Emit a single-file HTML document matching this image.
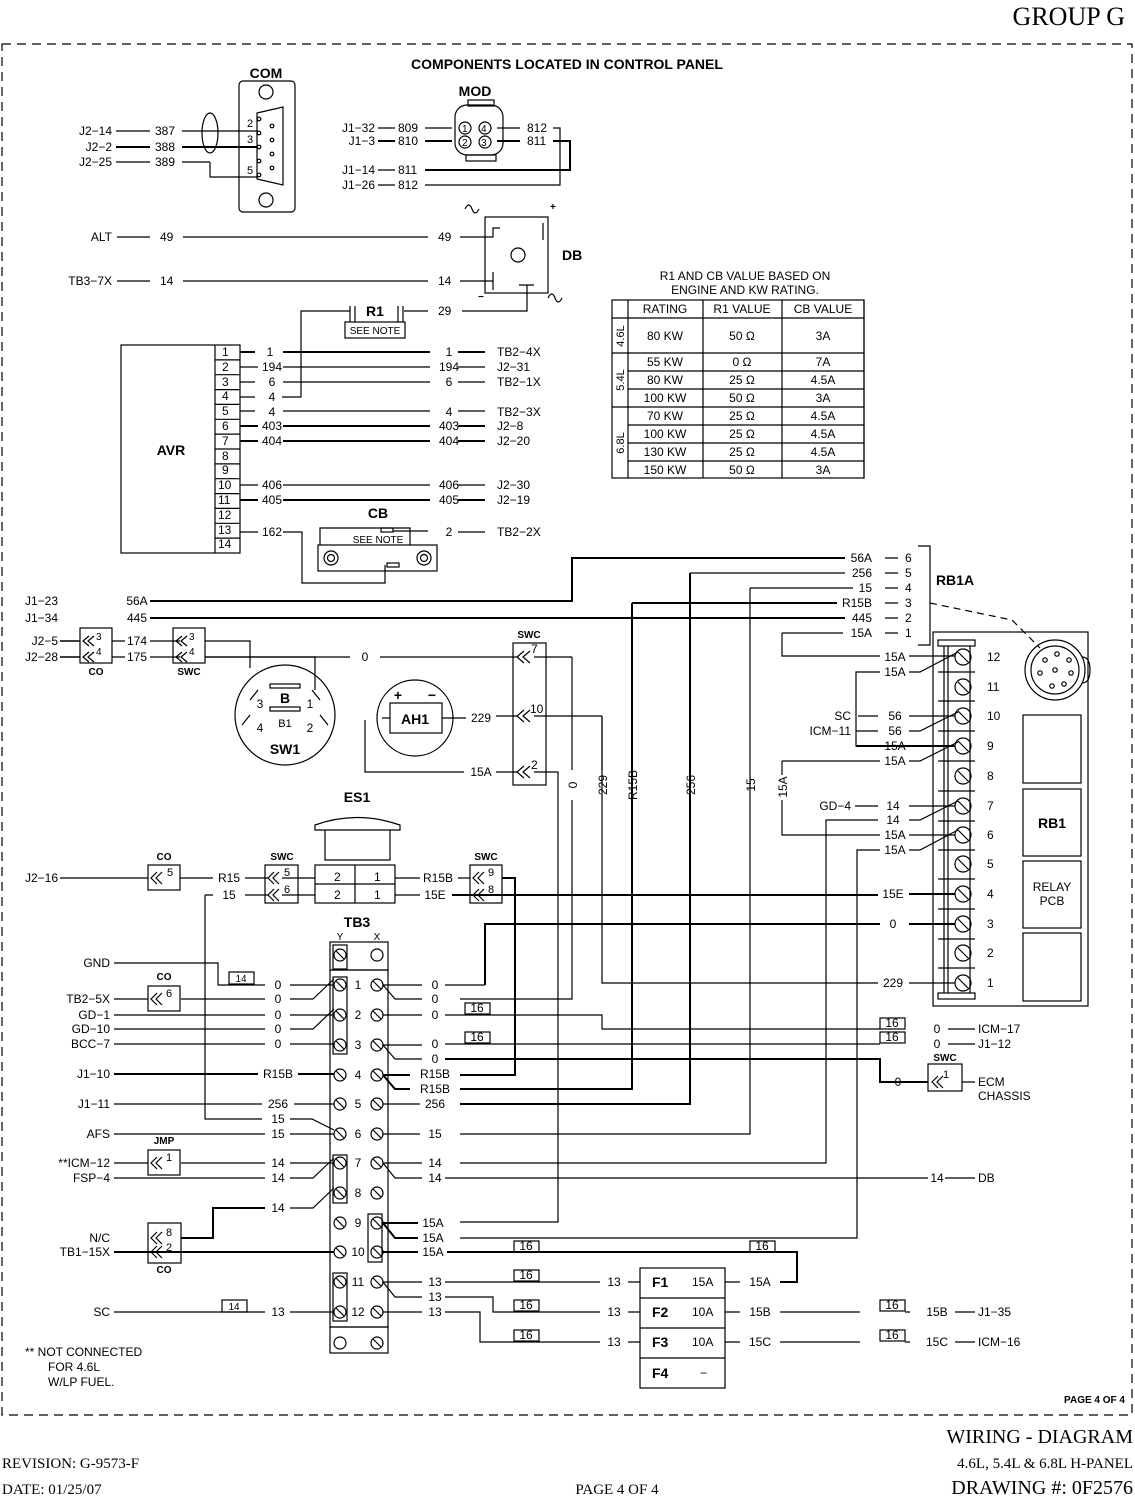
<!DOCTYPE html>
<html><head><meta charset="utf-8">
<style>
html,body{margin:0;padding:0;background:#fff;}
svg{display:block;}
text{font-family:"Liberation Sans",sans-serif;font-size:12px;fill:#000;}
.b{font-weight:bold;font-size:14px;}
.s{font-family:"Liberation Serif",serif;}
.m{text-anchor:middle;}
.e{text-anchor:end;}
</style></head><body>
<svg width="1135" height="1497" viewBox="0 0 1135 1497" xmlns="http://www.w3.org/2000/svg">
<g fill="none" stroke="#000" stroke-width="1.2">
<rect x="2" y="44" width="1130" height="1371" stroke-dasharray="9,6"/>

<!-- COM connector -->
<rect x="239" y="81" width="56" height="131" rx="4"/>
<path d="M257 113 L283 107 L283 185 L257 179 Z"/>
<circle cx="266" cy="92" r="7"/><circle cx="266" cy="200" r="7"/>
<circle cx="259" cy="119" r="1.8"/><circle cx="259" cy="133" r="1.8"/><circle cx="259" cy="147" r="1.8"/><circle cx="259" cy="161" r="1.8"/><circle cx="259" cy="175" r="1.8"/>
<circle cx="272" cy="126" r="1.8"/><circle cx="272" cy="140" r="1.8"/><circle cx="272" cy="154" r="1.8"/><circle cx="272" cy="168" r="1.8"/>
<ellipse cx="210" cy="133" rx="8" ry="20"/>
<path d="M116 131 H150 M182 131 H258 M116 162 H150 M182 162 H210"/>
<path d="M210 162 V177 H258" />
<path d="M116 147 H150 M182 147 H258" stroke-width="2"/>

<!-- MOD -->
<path d="M378 128 H395 M425 128 H452 M378 170 H395 M378 185 H395" />
<path d="M378 141 H395 M425 141 H452" stroke-width="2"/>
<path d="M497 128 H520 M553 128 H560 V185 H425" />
<path d="M497 141 H520 M553 141 H570 V170 H425" stroke-width="2"/>
<rect x="455" y="105" width="48" height="50" rx="12"/>
<rect x="468" y="100" width="26" height="6"/>
<rect x="466" y="155" width="30" height="6"/>
<circle cx="465" cy="128" r="6"/><circle cx="485" cy="128" r="6"/><circle cx="465" cy="142" r="6"/><circle cx="485" cy="142" r="6"/>

<!-- DB -->
<rect x="485" y="217" width="63" height="76"/>
<circle cx="518" cy="255" r="7"/>
<path d="M460 237 H493 V228 H500 M543 223 V240 M460 281 H493 M493 272 V290 M519 285 H534 M527 285 V311 H462"/>
<path d="M117 237 H150 M183 237 H428 M117 281 H150 M183 281 H428"/>
<path d="M465 209 q4 -8 7 0 q3 8 7 0 M548 298 q4 -8 7 0 q3 8 7 0"/>

<!-- R1 -->
<path d="M350 306 V322 M355 306 V322 M398 306 V322 M403 306 V322"/>
<rect x="345" y="322" width="60" height="16"/>
<path d="M404 311 H428 M350 311 H301 V397 H282"/>

<!-- AVR -->
<rect x="121" y="345" width="119" height="208"/>
<path d="M215 345 V553"/>
<path d="M215 359.9 H240 M215 374.7 H240 M215 389.6 H240 M215 404.4 H240 M215 419.3 H240 M215 434.1 H240 M215 449 H240 M215 463.9 H240 M215 478.7 H240 M215 493.6 H240 M215 508.4 H240 M215 523.3 H240 M215 538.1 H240"/>
<g stroke-width="2"><path d="M240 352 H255 M283 352 H430 M458 352 H485 M240 426 H258 M283 426 H430 M458 426 H485 M240 441 H258 M283 441 H430 M458 441 H485 M240 500 H258 M283 500 H430 M458 500 H485"/></g>
<path d="M240 367 H258 M283 367 H430 M458 367 H485 M240 382 H255 M283 382 H430 M458 382 H485 M240 397 H255 M240 411 H255 M283 411 H430 M458 411 H485 M240 485 H258 M283 485 H430 M458 485 H485 M240 532 H258 M283 532 H302 V583 H385 V565 M458 532 H485"/>
<!-- CB -->
<path d="M320 545 V528 H410 V545"/>
<rect x="381" y="528" width="12" height="4"/>
<path d="M393 531 H428"/>
<rect x="318" y="545" width="119" height="26"/>
<circle cx="331" cy="558" r="7"/><circle cx="331" cy="558" r="3.5"/>
<circle cx="424" cy="558" r="7"/><circle cx="424" cy="558" r="3.5"/>
<rect x="387" y="563" width="12" height="4"/>

<!-- table -->
<rect x="612" y="300" width="252" height="178"/>
<path d="M628 300 V478 M703 300 V478 M782 300 V478 M864 300 V478"/>
<path d="M612 318 H864 M612 353 H864 M628 371 H864 M628 389 H864 M612 407 H864 M628 425 H864 M628 443 H864 M628 461 H864"/>

<!-- RB1A wires -->
<path d="M918 546 H930 V645 H918"/>
<path d="M885 558 H898 M885 573 H898 M885 588 H898 M885 603 H898 M885 618 H898 M885 633 H898"/>
<g stroke-width="2">
<path d="M150 601 H572 V558 H845"/>
<path d="M150 618 H845"/>
<path d="M632 603 H837 M632 603 V1089 H460"/>
<path d="M690 573 V1104 H460"/>
</g>
<path d="M690 573 H845 M750 588 H853 M750 588 V1134 H460"/>
<path d="M782 633 H843 M782 633 V656 H880"/>
<path d="M930 603 L1012 620 L1040 648" stroke-dasharray="7,5"/>

<!-- RB1 board -->
<rect x="933" y="632" width="155" height="374"/>
<rect x="938" y="640" width="37" height="6"/>
<rect x="938" y="993" width="37" height="6"/>
<path d="M944 646 V993 M948 646 V993 M970 646 V993"/>
<g>
<circle cx="963" cy="657" r="8"/><circle cx="963" cy="687" r="8"/><circle cx="963" cy="716" r="8"/><circle cx="963" cy="746" r="8"/><circle cx="963" cy="776" r="8"/><circle cx="963" cy="806" r="8"/><circle cx="963" cy="835" r="8"/><circle cx="963" cy="864" r="8"/><circle cx="963" cy="894" r="8"/><circle cx="963" cy="924" r="8"/><circle cx="963" cy="953" r="8"/><circle cx="963" cy="983" r="8"/>
</g>
<path d="M958 652 L968 662 M958 682 L968 692 M958 711 L968 721 M958 741 L968 751 M958 771 L968 781 M958 801 L968 811 M958 830 L968 840 M958 859 L968 869 M958 889 L968 899 M958 919 L968 929 M958 948 L968 958 M958 978 L968 988"/>
<path d="M938 672 H975 M938 701 H975 M938 731 H975 M938 761 H975 M938 791 H975 M938 821 H975 M938 850 H975 M938 879 H975 M938 909 H975 M938 939 H975 M938 968 H975"/>
<circle cx="1055" cy="670" r="30"/><circle cx="1055" cy="670" r="24"/>
<path d="M1082 657 q8 0 8 13 q0 13 -8 13"/>
<g>
<circle cx="1040" cy="673" r="2.2"/><circle cx="1045" cy="660" r="2.2"/><circle cx="1057" cy="654" r="2.2"/><circle cx="1069" cy="660" r="2.2"/><circle cx="1071" cy="673" r="2.2"/><circle cx="1064" cy="684" r="2.2"/><circle cx="1052" cy="686" r="2.2"/><circle cx="1055" cy="670" r="2.2"/>
</g>
<rect x="1023" y="715" width="58" height="68"/><rect x="1023" y="789" width="58" height="67"/><rect x="1023" y="861" width="58" height="67"/><rect x="1023" y="933" width="58" height="68"/>
<!-- RB1 left wires -->
<path d="M909 656 H955 M909 672 H920 L958 652 M909 716 H955 M909 731 H920 L958 712 M909 761 H920 L958 742 M909 806 H955 M909 820 H920 L958 801 M909 835 H955 M909 850 H920 L958 830"/>
<path d="M880 672 H856 V746 H880"/>
<path d="M858 716 H878 M856 731 H878 M782 761 H880 M782 761 V775 M782 800 V835 H880"/>
<path d="M855 806 H878 M878 820 H826 V1163 H460 M880 850 H857 V1238 H460"/>
<g stroke-width="2">
<path d="M856 746 H955"/>
<path d="M460 895 H878 M909 894 H955"/>
<path d="M485 985 V924 H880 M909 924 H955"/>
</g>
<path d="M602 716 V983 H878 M909 983 H955"/>
<path d="M572 657 V770 M572 800 V999 H460"/>
<path d="M602 716 V770"/>

<!-- SWC left big -->
<rect x="513" y="643" width="33" height="142"/>
<path d="M530 651 l-7 6 l7 6 M524 651 l-7 6 l7 6 M530 710 l-7 6 l7 6 M524 710 l-7 6 l7 6 M530 766 l-7 6 l7 6 M524 766 l-7 6 l7 6"/>
<path d="M380 657 H517 M205 657 H350 M534 657 H572 M534 716 H602 M496 716 H517 M534 772 H558 V1222 H460 M496 772 H517 M464 772 H365 V720"/>
<path d="M205 641 H250 V668"/>
<path d="M205 657 H315 V690"/>
<path d="M112 641 H125 M112 657 H125 M150 641 H180 M150 657 H180"/>
<rect x="80" y="628" width="32" height="35"/><rect x="173" y="628" width="32" height="35"/>
<path d="M94 636 l-6 5 l6 5 M89 636 l-6 5 l6 5 M94 652 l-6 5 l6 5 M89 652 l-6 5 l6 5 M187 636 l-6 5 l6 5 M182 636 l-6 5 l6 5 M187 652 l-6 5 l6 5 M182 652 l-6 5 l6 5"/>
<path d="M60 641 H80 M60 657 H80" stroke-width="1.5"/>
<!-- SW1 -->
<circle cx="285" cy="715" r="50"/>
<rect x="270" y="684" width="30" height="4"/><rect x="270" y="707" width="30" height="4"/>
<path d="M258 690 L250 700 M312 690 L320 700 M250 715 L242 725 M320 715 L328 725"/>
<!-- AH1 -->
<circle cx="415" cy="718" r="38"/>
<rect x="390" y="703" width="52" height="30"/>
<path d="M382 718 H390 M442 718 H466"/>

<!-- ES1 -->
<path d="M315 825 Q357 810 400 825 L400 830 L315 830 Z"/>
<path d="M325 830 V860 H390 V830"/>
<rect x="315" y="865" width="80" height="38"/>
<path d="M315 884 H395 M355 865 V903"/>
<path d="M60 878 H148 M180 878 H213 M245 878 H268 M282 878 H315 M395 878 H420 M458 878 H470"/>
<path d="M205 895 H213 M245 895 H268 M282 895 H315 M395 895 H420 M205 895 V1119 H262"/>
<rect x="148" y="865" width="32" height="25"/>
<rect x="265" y="865" width="33" height="38"/>
<rect x="470" y="865" width="32" height="38"/>
<path d="M162 872 l-6 6 l6 6 M157 872 l-6 6 l6 6 M279 872 l-6 6 l6 6 M274 872 l-6 6 l6 6 M279 889 l-6 6 l6 6 M274 889 l-6 6 l6 6 M484 872 l-6 6 l6 6 M479 872 l-6 6 l6 6 M484 889 l-6 6 l6 6 M479 889 l-6 6 l6 6"/>
<path d="M452 895 H470" stroke-width="2"/>
<path d="M502 878 H515 V1075 H460" stroke-width="2"/>

<!-- TB3 -->
<rect x="330" y="942" width="58" height="28"/>
<rect x="330" y="970" width="58" height="357"/>
<rect x="330" y="1327" width="58" height="26"/>
<rect x="333" y="945" width="14" height="24"/>
<rect x="333" y="977" width="14" height="77"/>
<rect x="333" y="1155" width="14" height="48"/>
<rect x="368" y="1214" width="14" height="48"/>
<rect x="333" y="1273" width="14" height="48"/>
<circle cx="377" cy="955" r="6"/><circle cx="340" cy="1343" r="6"/>
<g>
<circle cx="340" cy="955" r="6"/>
<circle cx="340" cy="985" r="6"/><circle cx="377" cy="985" r="6"/>
<circle cx="340" cy="1015" r="6"/><circle cx="377" cy="1015" r="6"/>
<circle cx="340" cy="1045" r="6"/><circle cx="377" cy="1045" r="6"/>
<circle cx="340" cy="1075" r="6"/><circle cx="377" cy="1075" r="6"/>
<circle cx="340" cy="1104" r="6"/><circle cx="377" cy="1104" r="6"/>
<circle cx="340" cy="1134" r="6"/><circle cx="377" cy="1134" r="6"/>
<circle cx="340" cy="1163" r="6"/><circle cx="377" cy="1163" r="6"/>
<circle cx="340" cy="1193" r="6"/><circle cx="377" cy="1193" r="6"/>
<circle cx="340" cy="1223" r="6"/><circle cx="377" cy="1223" r="6"/>
<circle cx="340" cy="1252" r="6"/><circle cx="377" cy="1252" r="6"/>
<circle cx="340" cy="1282" r="6"/><circle cx="377" cy="1282" r="6"/>
<circle cx="340" cy="1312" r="6"/><circle cx="377" cy="1312" r="6"/>
<circle cx="377" cy="1343" r="6"/>
</g>
<path d="M336 951 L344 959 M336 981 L344 989 M373 981 L381 989 M336 1011 L344 1019 M373 1011 L381 1019 M336 1041 L344 1049 M373 1041 L381 1049 M336 1071 L344 1079 M373 1071 L381 1079 M336 1100 L344 1108 M373 1100 L381 1108 M336 1130 L344 1138 M373 1130 L381 1138 M336 1159 L344 1167 M373 1159 L381 1167 M336 1189 L344 1197 M373 1189 L381 1197 M336 1219 L344 1227 M373 1219 L381 1227 M336 1248 L344 1256 M373 1248 L381 1256 M336 1278 L344 1286 M373 1278 L381 1286 M336 1308 L344 1316 M373 1308 L381 1316 M373 1339 L381 1347"/>
<!-- TB3 left wires -->
<path d="M114 963 H218 V985 H265 M290 985 H334 M181 999 H265 M290 999 H313 L334 979 M114 1015 H265 M290 1015 H334 M114 1029 H265 M290 1029 H313 L334 1009 M114 1044 H265 M290 1044 H334"/>
<path d="M114 1104 H262 M294 1104 H334 M290 1119 H312 L334 1130 M114 1134 H265 M290 1134 H334 M181 1163 H265 M290 1163 H334 M114 1178 H265 M290 1178 H313 L334 1158 M290 1208 H313 L334 1188 M114 1312 H265 M290 1312 H334"/>
<path d="M114 999 H148 M114 1163 H148"/>
<g stroke-width="2">
<path d="M114 1074 H258 M298 1074 H334 M114 1252 H334 M265 1208 H213 V1238 H181"/>
</g>
<rect x="148" y="986" width="32" height="25"/><rect x="148" y="1150" width="32" height="25"/><rect x="148" y="1223" width="33" height="40"/>
<path d="M162 993 l-6 6 l6 6 M157 993 l-6 6 l6 6 M162 1157 l-6 6 l6 6 M157 1157 l-6 6 l6 6 M162 1232 l-6 6 l6 6 M157 1232 l-6 6 l6 6 M162 1246 l-6 6 l6 6 M157 1246 l-6 6 l6 6"/>
<rect x="229" y="972" width="25" height="12"/><rect x="222" y="1300" width="25" height="12"/>
<!-- TB3 right wires -->
<path d="M383 985 H422 M445 985 H485 M383 985 L395 999 H422 M383 1015 H422 M445 1015 H602 V1029 H880 M383 1045 H422 M383 1045 L395 1059 H422 M445 1044 H880"/>
<path d="M383 1104 H420 M383 1134 H420 M383 1163 H422 M383 1163 L395 1178 H422 M445 1178 H928 M383 1282 H422 M445 1282 H600 M383 1282 L395 1297 H422 M445 1297 H493 V1312 H600 M383 1312 H422 M445 1312 H480 V1342 H600"/>
<path d="M945 1178 H975"/>
<g stroke-width="2">
<path d="M445 1059 H880 V1082 H928"/>
<path d="M383 1075 L395 1089 H410 M383 1075 H410 M383 1223 H418 M383 1223 L395 1238 H418 M383 1252 H418 M447 1252 H797 V1282 H780"/>
</g>
<rect x="465" y="1003" width="25" height="11"/><rect x="465" y="1032" width="25" height="11"/>
<rect x="880" y="1018" width="25" height="11"/><rect x="880" y="1032" width="25" height="11"/>
<rect x="514" y="1241" width="25" height="11"/><rect x="750" y="1241" width="25" height="11"/>
<rect x="514" y="1270" width="25" height="11"/><rect x="514" y="1300" width="25" height="11"/><rect x="514" y="1330" width="25" height="11"/>
<rect x="880" y="1300" width="25" height="11"/><rect x="880" y="1330" width="25" height="11"/>
<path d="M948 1029 H975 M948 1044 H975"/>
<rect x="928" y="1064" width="34" height="27"/>
<path d="M943 1076 l-6 6 l6 6 M938 1076 l-6 6 l6 6 M962 1082 H975"/>
<!-- fuses -->
<rect x="640" y="1268" width="85" height="120"/>
<path d="M640 1298 H725 M640 1328 H725 M640 1358 H725"/>
<path d="M628 1282 H640 M628 1312 H640 M628 1342 H640 M725 1282 H740 M725 1312 H740 M725 1342 H740 M780 1312 H860 M905 1312 H910 M780 1342 H860 M905 1342 H910 M955 1312 H975 M955 1342 H975"/>
</g>

<!-- ===== TEXT ===== -->
<text x="1125" y="25" class="s e" style="font-size:26px">GROUP G</text>
<text x="266" y="78" class="b m">COM</text>
<text x="567" y="69" class="b m">COMPONENTS LOCATED IN CONTROL PANEL</text>
<text x="475" y="96" class="b m">MOD</text>
<text x="112" y="135" class="e">J2−14</text><text x="112" y="151" class="e">J2−2</text><text x="112" y="166" class="e">J2−25</text>
<text x="375" y="132" class="e">J1−32</text><text x="375" y="145" class="e">J1−3</text><text x="375" y="174" class="e">J1−14</text><text x="375" y="189" class="e">J1−26</text>
<text x="112" y="241" class="e">ALT</text><text x="112" y="285" class="e">TB3−7X</text>
<text x="155" y="135">387</text><text x="155" y="151">388</text><text x="155" y="166">389</text>
<text x="247" y="127" style="font-size:11px">2</text><text x="247" y="143" style="font-size:11px">3</text><text x="247" y="174" style="font-size:11px">5</text>
<text x="398" y="132">809</text><text x="398" y="145">810</text><text x="398" y="174">811</text><text x="398" y="189">812</text>
<text x="527" y="132">812</text><text x="527" y="145">811</text>
<text x="462" y="132" style="font-size:10px">1</text><text x="481" y="132" style="font-size:10px">4</text><text x="462" y="146" style="font-size:10px">2</text><text x="481" y="146" style="font-size:10px">3</text>
<text x="160" y="241">49</text><text x="438" y="241">49</text><text x="160" y="285">14</text><text x="438" y="285">14</text>
<text x="562" y="260" class="b">DB</text>
<text x="550" y="210" class="b" style="font-size:10px">+</text><text x="478" y="300" class="b" style="font-size:10px">−</text>
<text x="375" y="316" class="b m">R1</text>
<text x="375" y="334" class="m" style="font-size:10px">SEE NOTE</text>
<text x="438" y="315">29</text>
<text x="171" y="455" class="b m">AVR</text>
<g style="font-size:11px">
<text x="222" y="356">1</text><text x="222" y="371">2</text><text x="222" y="386">3</text><text x="222" y="400">4</text><text x="222" y="415">5</text><text x="222" y="430">6</text><text x="222" y="445">7</text><text x="222" y="460">8</text><text x="222" y="474">9</text><text x="218" y="489">10</text><text x="218" y="504">11</text><text x="218" y="519">12</text><text x="218" y="534">13</text><text x="218" y="548">14</text>
</g>
<text x="270" y="356" class="m">1</text><text x="272" y="371" class="m">194</text><text x="272" y="386" class="m">6</text><text x="272" y="401" class="m">4</text><text x="272" y="416" class="m">4</text><text x="272" y="430" class="m">403</text><text x="272" y="445" class="m">404</text><text x="272" y="489" class="m">406</text><text x="272" y="504" class="m">405</text><text x="272" y="536" class="m">162</text>
<text x="449" y="356" class="m">1</text><text x="449" y="371" class="m">194</text><text x="449" y="386" class="m">6</text><text x="449" y="416" class="m">4</text><text x="449" y="430" class="m">403</text><text x="449" y="445" class="m">404</text><text x="449" y="489" class="m">406</text><text x="449" y="504" class="m">405</text><text x="449" y="536" class="m">2</text>
<text x="497" y="356">TB2−4X</text><text x="497" y="371">J2−31</text><text x="497" y="386">TB2−1X</text><text x="497" y="416">TB2−3X</text><text x="497" y="430">J2−8</text><text x="497" y="445">J2−20</text><text x="497" y="489">J2−30</text><text x="497" y="504">J2−19</text><text x="497" y="536">TB2−2X</text>
<text x="378" y="518" class="b m">CB</text>
<text x="378" y="543" class="m" style="font-size:10px">SEE NOTE</text>
<text x="745" y="280" class="m">R1 AND CB VALUE BASED ON</text>
<text x="745" y="294" class="m">ENGINE AND KW RATING.</text>
<g class="m">
<text x="665" y="313">RATING</text><text x="742" y="313">R1 VALUE</text><text x="823" y="313">CB VALUE</text>
<text x="665" y="340">80 KW</text><text x="742" y="340">50 Ω</text><text x="823" y="340">3A</text>
<text x="665" y="366">55 KW</text><text x="742" y="366">0 Ω</text><text x="823" y="366">7A</text>
<text x="665" y="384">80 KW</text><text x="742" y="384">25 Ω</text><text x="823" y="384">4.5A</text>
<text x="665" y="402">100 KW</text><text x="742" y="402">50 Ω</text><text x="823" y="402">3A</text>
<text x="665" y="420">70 KW</text><text x="742" y="420">25 Ω</text><text x="823" y="420">4.5A</text>
<text x="665" y="438">100 KW</text><text x="742" y="438">25 Ω</text><text x="823" y="438">4.5A</text>
<text x="665" y="456">130 KW</text><text x="742" y="456">25 Ω</text><text x="823" y="456">4.5A</text>
<text x="665" y="474">150 KW</text><text x="742" y="474">50 Ω</text><text x="823" y="474">3A</text>
</g>
<text transform="translate(624,336) rotate(-90)" class="m" style="font-size:11px">4.6L</text>
<text transform="translate(624,380) rotate(-90)" class="m" style="font-size:11px">5.4L</text>
<text transform="translate(624,443) rotate(-90)" class="m" style="font-size:11px">6.8L</text>

<text x="872" y="562" class="e">56A</text><text x="872" y="577" class="e">256</text><text x="872" y="592" class="e">15</text><text x="872" y="607" class="e">R15B</text><text x="872" y="622" class="e">445</text><text x="872" y="637" class="e">15A</text>
<text x="905" y="562">6</text><text x="905" y="577">5</text><text x="905" y="592">4</text><text x="905" y="607">3</text><text x="905" y="622">2</text><text x="905" y="637">1</text>
<text x="955" y="585" class="b m">RB1A</text>
<g class="m">
<text x="895" y="661">15A</text><text x="895" y="676">15A</text><text x="895" y="720">56</text><text x="895" y="735">56</text><text x="895" y="750">15A</text><text x="895" y="765">15A</text><text x="893" y="810">14</text><text x="893" y="824">14</text><text x="895" y="839">15A</text><text x="895" y="854">15A</text><text x="893" y="898">15E</text><text x="893" y="928">0</text><text x="893" y="987">229</text>
</g>
<text x="851" y="720" class="e">SC</text><text x="851" y="735" class="e">ICM−11</text><text x="851" y="810" class="e">GD−4</text>
<g>
<text x="987" y="661">12</text><text x="987" y="691">11</text><text x="987" y="720">10</text><text x="987" y="750">9</text><text x="987" y="780">8</text><text x="987" y="810">7</text><text x="987" y="839">6</text><text x="987" y="868">5</text><text x="987" y="898">4</text><text x="987" y="928">3</text><text x="987" y="957">2</text><text x="987" y="987">1</text>
</g>
<text x="1052" y="828" class="b m">RB1</text>
<text x="1052" y="891" class="m">RELAY</text><text x="1052" y="905" class="m">PCB</text>
<text transform="translate(577,785) rotate(-90)" class="m">0</text>
<text transform="translate(607,785) rotate(-90)" class="m">229</text>
<text transform="translate(637,785) rotate(-90)" class="m">R15B</text>
<text transform="translate(695,785) rotate(-90)" class="m">256</text>
<text transform="translate(755,785) rotate(-90)" class="m">15</text>
<text transform="translate(787,787) rotate(-90)" class="m">15A</text>
<text x="58" y="605" class="e">J1−23</text><text x="58" y="622" class="e">J1−34</text>
<text x="137" y="605" class="m">56A</text><text x="137" y="622" class="m">445</text>
<text x="58" y="645" class="e">J2−5</text><text x="58" y="661" class="e">J2−28</text>
<text x="137" y="645" class="m">174</text><text x="137" y="661" class="m">175</text>
<text x="96" y="640" style="font-size:10px">3</text><text x="96" y="655" style="font-size:10px">4</text><text x="189" y="640" style="font-size:10px">3</text><text x="189" y="655" style="font-size:10px">4</text>
<text x="96" y="675" class="b m" style="font-size:10px">CO</text><text x="189" y="675" class="b m" style="font-size:10px">SWC</text>
<text x="365" y="661" class="m">0</text>
<text x="529" y="638" class="b m" style="font-size:10px">SWC</text>
<text x="531" y="653">7</text><text x="530" y="713">10</text><text x="531" y="769">2</text>
<text x="481" y="722" class="m">229</text><text x="481" y="776" class="m">15A</text>
<text x="285" y="703" class="b m">B</text><text x="285" y="727" class="m" style="font-size:11px">B1</text>
<text x="260" y="708" class="m">3</text><text x="310" y="708" class="m">1</text><text x="260" y="732" class="m">4</text><text x="310" y="732" class="m">2</text>
<text x="285" y="754" class="b m">SW1</text>
<text x="415" y="724" class="b m">AH1</text>
<text x="398" y="700" class="b m">+</text><text x="432" y="700" class="b m">−</text>
<text x="357" y="802" class="b m">ES1</text>
<text x="58" y="882" class="e">J2−16</text>
<text x="164" y="860" class="b m" style="font-size:10px">CO</text><text x="167" y="876" style="font-size:11px">5</text>
<text x="282" y="860" class="b m" style="font-size:10px">SWC</text><text x="284" y="876" style="font-size:11px">5</text><text x="284" y="893" style="font-size:11px">6</text>
<text x="486" y="860" class="b m" style="font-size:10px">SWC</text><text x="488" y="876" style="font-size:11px">9</text><text x="488" y="893" style="font-size:11px">8</text>
<text x="229" y="882" class="m">R15</text><text x="229" y="899" class="m">15</text>
<text x="438" y="882" class="m">R15B</text><text x="435" y="899" class="m">15E</text>
<text x="334" y="881">2</text><text x="374" y="881">1</text><text x="334" y="899">2</text><text x="374" y="899">1</text>
<text x="357" y="927" class="b m">TB3</text>
<text x="340" y="940" class="m" style="font-size:10px">Y</text><text x="377" y="940" class="m" style="font-size:10px">X</text>
<g class="m">
<text x="358" y="989">1</text><text x="358" y="1019">2</text><text x="358" y="1049">3</text><text x="358" y="1079">4</text><text x="358" y="1108">5</text><text x="358" y="1138">6</text><text x="358" y="1167">7</text><text x="358" y="1197">8</text><text x="358" y="1227">9</text><text x="358" y="1256">10</text><text x="358" y="1286">11</text><text x="358" y="1316">12</text>
</g>
<text x="110" y="967" class="e">GND</text><text x="110" y="1003" class="e">TB2−5X</text><text x="110" y="1019" class="e">GD−1</text><text x="110" y="1033" class="e">GD−10</text><text x="110" y="1048" class="e">BCC−7</text><text x="110" y="1078" class="e">J1−10</text><text x="110" y="1108" class="e">J1−11</text><text x="110" y="1138" class="e">AFS</text><text x="110" y="1167" class="e">**ICM−12</text><text x="110" y="1182" class="e">FSP−4</text><text x="110" y="1242" class="e">N/C</text><text x="110" y="1256" class="e">TB1−15X</text><text x="110" y="1316" class="e">SC</text>
<text x="164" y="980" class="b m" style="font-size:10px">CO</text><text x="166" y="997" style="font-size:11px">6</text>
<text x="164" y="1144" class="b m" style="font-size:10px">JMP</text><text x="166" y="1161" style="font-size:11px">1</text>
<text x="166" y="1236" style="font-size:11px">8</text><text x="166" y="1251" style="font-size:11px">2</text>
<text x="164" y="1273" class="b m" style="font-size:10px">CO</text>
<text x="241" y="982" class="m" style="font-size:10px">14</text><text x="234" y="1310" class="m" style="font-size:10px">14</text>
<g class="m">
<text x="278" y="989">0</text><text x="278" y="1003">0</text><text x="278" y="1019">0</text><text x="278" y="1033">0</text><text x="278" y="1048">0</text><text x="278" y="1078">R15B</text><text x="278" y="1108">256</text><text x="278" y="1123">15</text><text x="278" y="1138">15</text><text x="278" y="1167">14</text><text x="278" y="1182">14</text><text x="278" y="1212">14</text><text x="278" y="1316">13</text>
<text x="435" y="989">0</text><text x="435" y="1003">0</text><text x="435" y="1019">0</text><text x="435" y="1048">0</text><text x="435" y="1063">0</text><text x="435" y="1078">R15B</text><text x="435" y="1093">R15B</text><text x="435" y="1108">256</text><text x="435" y="1138">15</text><text x="435" y="1167">14</text><text x="435" y="1182">14</text><text x="433" y="1227">15A</text><text x="433" y="1242">15A</text><text x="433" y="1256">15A</text><text x="435" y="1286">13</text><text x="435" y="1301">13</text><text x="435" y="1316">13</text>
<text x="614" y="1286">13</text><text x="614" y="1316">13</text><text x="614" y="1346">13</text>
<text x="760" y="1286">15A</text><text x="760" y="1316">15B</text><text x="760" y="1346">15C</text>
<text x="937" y="1182">14</text><text x="937" y="1033">0</text><text x="937" y="1048">0</text><text x="898" y="1086">0</text>
<text x="937" y="1316">15B</text><text x="937" y="1346">15C</text>
</g>
<g class="m" style="font-size:10px">
<text x="477" y="1012">16</text><text x="477" y="1041">16</text><text x="892" y="1027">16</text><text x="892" y="1041">16</text><text x="526" y="1250">16</text><text x="762" y="1250">16</text><text x="526" y="1279">16</text><text x="526" y="1309">16</text><text x="526" y="1339">16</text><text x="892" y="1309">16</text><text x="892" y="1339">16</text>
</g>
<text x="978" y="1033">ICM−17</text><text x="978" y="1048">J1−12</text><text x="978" y="1182">DB</text>
<text x="978" y="1086">ECM</text><text x="978" y="1100">CHASSIS</text>
<text x="945" y="1061" class="b m" style="font-size:10px">SWC</text><text x="943" y="1078" style="font-size:11px">1</text>
<text x="978" y="1316">J1−35</text><text x="978" y="1346">ICM−16</text>
<text x="652" y="1287" class="b">F1</text><text x="652" y="1317" class="b">F2</text><text x="652" y="1347" class="b">F3</text><text x="652" y="1378" class="b">F4</text>
<text x="692" y="1286">15A</text><text x="692" y="1316">10A</text><text x="692" y="1346">10A</text><text x="700" y="1377">−</text>
<text x="25" y="1356">** NOT CONNECTED</text><text x="48" y="1371">FOR 4.6L</text><text x="48" y="1386">W/LP FUEL.</text>
<text x="1125" y="1403" class="b e" style="font-size:10px">PAGE 4 OF 4</text>
<text x="1133" y="1443" class="s e" style="font-size:20px">WIRING - DIAGRAM</text>
<text x="2" y="1468" class="s" style="font-size:15px">REVISION: G-9573-F</text>
<text x="1133" y="1468" class="s e" style="font-size:15px">4.6L, 5.4L &amp; 6.8L H-PANEL</text>
<text x="2" y="1494" class="s" style="font-size:15px">DATE: 01/25/07</text>
<text x="617" y="1494" class="s m" style="font-size:15px">PAGE 4 OF 4</text>
<text x="1133" y="1494" class="s e" style="font-size:20px">DRAWING #: 0F2576</text>
</svg>
</body></html>
